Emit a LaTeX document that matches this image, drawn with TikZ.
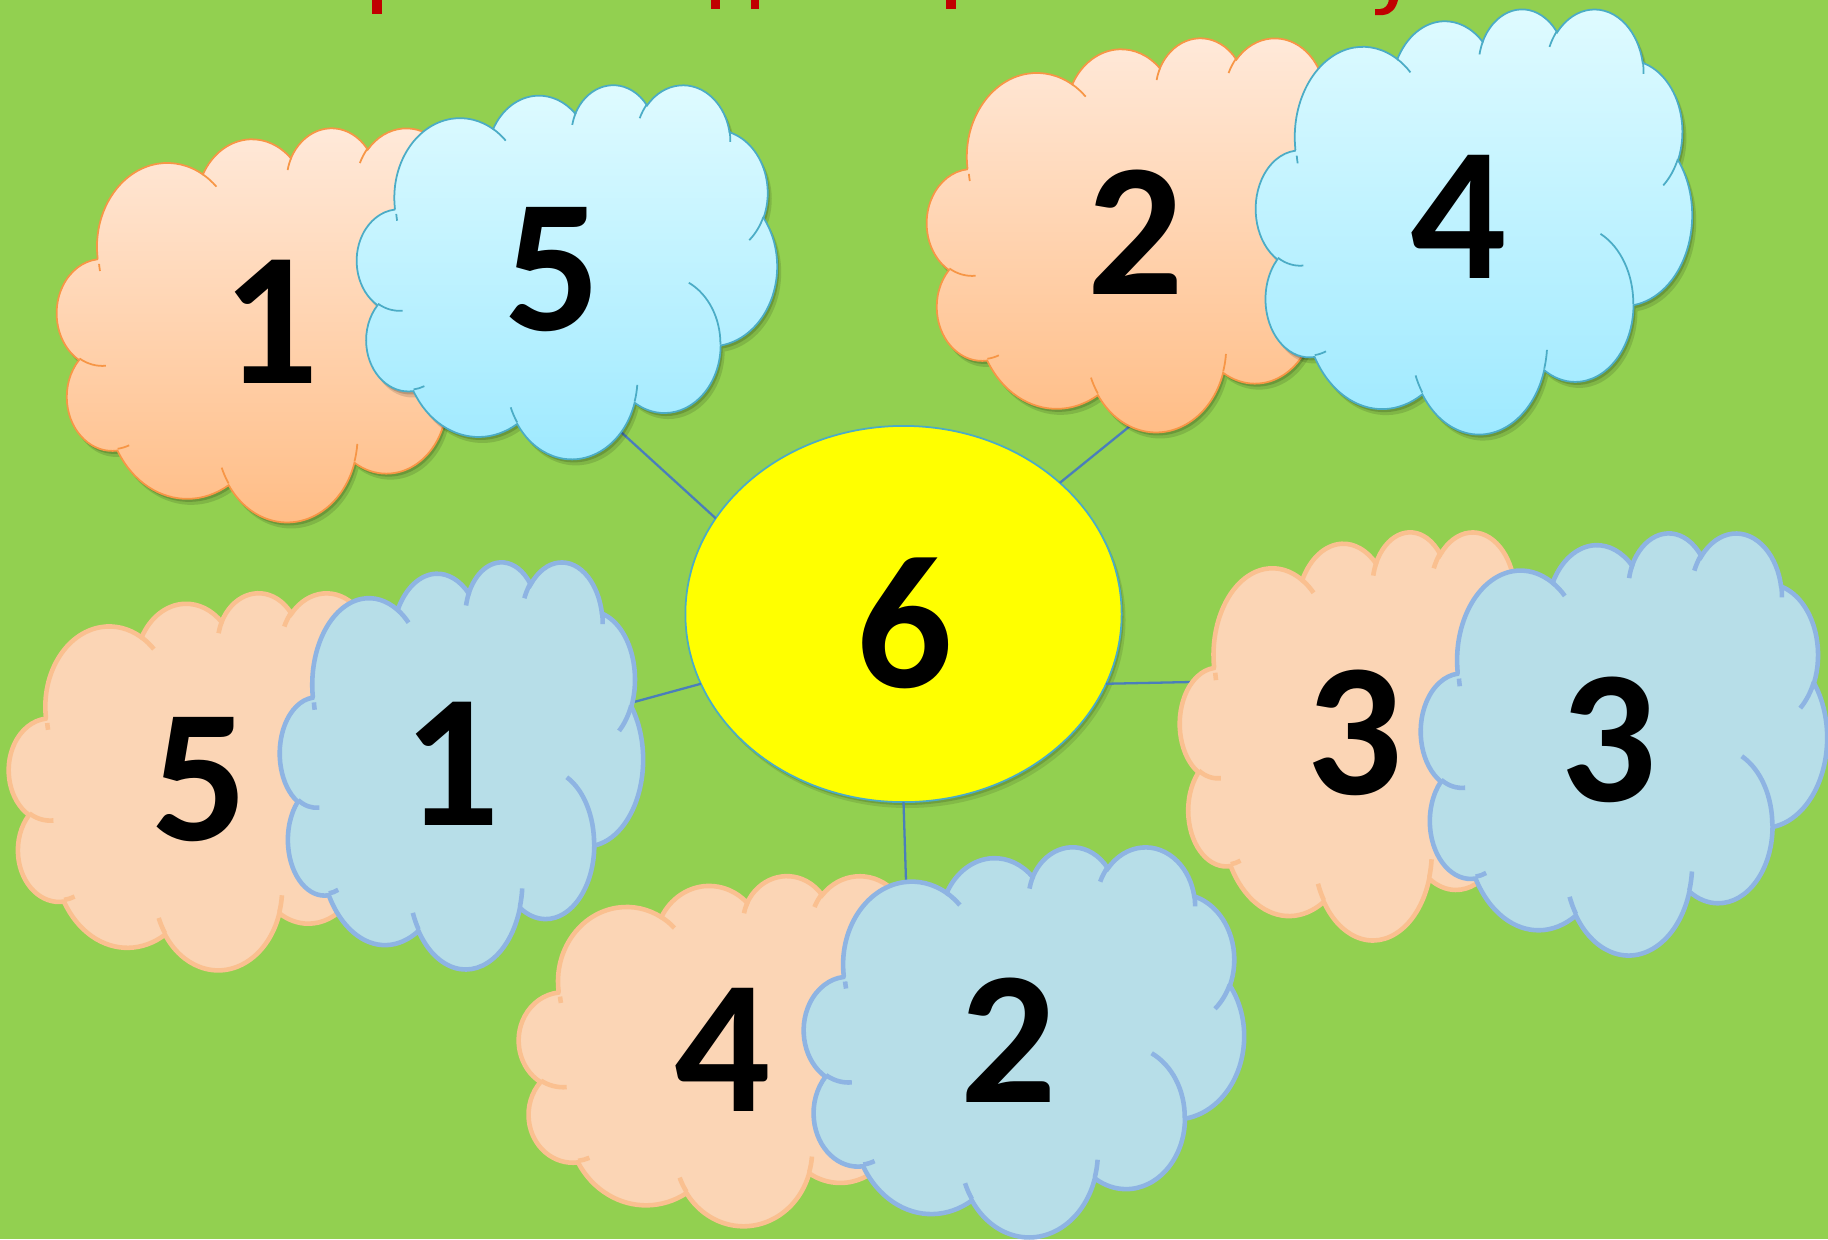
\documentclass[tikz,border=0pt]{standalone}
\usepackage{fontspec}
\newfontfamily\numfont{Carlito}
\usetikzlibrary{shapes.geometric}
\definecolor{bggreen}{HTML}{92D050}
\definecolor{peachT}{HTML}{FFEADB}
\definecolor{peachB}{HTML}{FFBC84}
\definecolor{blueT}{HTML}{E0FBFF}
\definecolor{blueB}{HTML}{9DE9FF}
\definecolor{peachline}{HTML}{F79646}
\definecolor{blueline}{HTML}{4BACC6}
\definecolor{peachF}{HTML}{FBD5B5}
\definecolor{peachL}{HTML}{FAC090}
\definecolor{blueF}{HTML}{B7DEE8}
\definecolor{blueL}{HTML}{8EB4E3}
\definecolor{linkblue}{HTML}{4A7EBB}
\definecolor{titlered}{HTML}{C00000}
\definecolor{sunyellow}{HTML}{FFFF00}
% PowerPoint cloud outline in a 43.2 x 43.2 box (y down)
\newcommand\cloudoutline{(3.900,14.370)
 arc[x radius=6.753,y radius=9.190,start angle=172.26,delta angle=128.10]
 arc[x radius=5.333,y radius=7.267,start angle=-152.02,delta angle=106.56]
 arc[x radius=4.365,y radius=5.945,start angle=-153.49,delta angle=116.17]
 arc[x radius=4.857,y radius=6.595,start angle=-139.72,delta angle=129.51]
 arc[x radius=5.333,y radius=7.273,start angle=-74.77,delta angle=97.98]
 arc[x radius=6.775,y radius=9.220,start angle=-37.53,delta angle=119.39]
 arc[x radius=5.785,y radius=7.867,start angle=0.46,delta angle=121.52]
 arc[x radius=6.752,y radius=9.215,start angle=16.85,delta angle=129.38]
 arc[x radius=7.720,y radius=10.543,start angle=58.98,delta angle=91.19]
 arc[x radius=4.360,y radius=5.918,start angle=83.31,delta angle=139.78]
 arc[x radius=4.345,y radius=5.945,start angle=120.35,delta angle=143.76]
 -- cycle}
\newcommand\cloudinner{
 (4.693,26.177) arc[x radius=4.345,y radius=5.945,start angle=85.55,delta angle=34.80]
 (6.928,34.899) arc[x radius=4.360,y radius=5.918,start angle=68.23,delta angle=15.08]
 (16.478,39.090) arc[x radius=6.752,y radius=9.215,start angle=146.23,delta angle=12.25]
 (28.827,34.751) arc[x radius=6.752,y radius=9.215,start angle=4.74,delta angle=12.11]
 (34.129,22.954) arc[x radius=5.785,y radius=7.867,start angle=-64.04,delta angle=64.50]
 (41.798,15.354) arc[x radius=5.333,y radius=7.273,start angle=23.21,delta angle=26.44]
 (38.324,5.426) arc[x radius=4.857,y radius=6.595,start angle=-10.21,delta angle=11.03]
 (29.078,3.952) arc[x radius=4.857,y radius=6.595,start angle=-156.28,delta angle=16.56]
 (22.141,4.720) arc[x radius=4.365,y radius=5.945,start angle=-167.73,delta angle=14.24]
 (14.000,5.192) arc[x radius=6.753,y radius=9.190,start angle=-59.64,delta angle=13.90]
 (4.127,15.789) arc[x radius=6.753,y radius=9.190,start angle=168.61,delta angle=4.93]}
% #1 x0, #2 y0, #3 width, #4 height, #5 look
\newcommand\drawcloud[5]{%
 \pgfmathsetmacro\cloudsx{#3/43.2}%
 \pgfmathsetmacro\cloudsy{#4/43.2}%
 \begin{scope}[shift={(#1,#2)},xscale=\cloudsx,yscale=\cloudsy]
  \path[#5] \cloudoutline;
  \path[#5 inner] \cloudinner;
 \end{scope}}
\newcommand\cloudshadow[4]{%
 \pgfmathsetmacro\cloudsx{#3/43.2}%
 \pgfmathsetmacro\cloudsy{#4/43.2}%
 \begin{scope}[shift={(#1+2,#2+3)},xscale=\cloudsx,yscale=\cloudsy]
  \fill[black,opacity=.16] \cloudoutline;
 \end{scope}
 \begin{scope}[shift={(#1+4,#2+6)},xscale=\cloudsx,yscale=\cloudsy]
  \fill[black,opacity=.12] \cloudoutline;
 \end{scope}}
\begin{document}
\begin{tikzpicture}[x=0.01cm,y=-0.01cm,
 peachtop/.style={top color=peachT,bottom color=peachB,draw=peachline,line width=0.5pt},
 peachtop inner/.style={draw=peachline,line width=0.5pt},
 bluetop/.style={top color=blueT,bottom color=blueB,draw=blueline,line width=0.5pt},
 bluetop inner/.style={draw=blueline,line width=0.5pt},
 peachflat/.style={fill=peachF,draw=peachL,line width=1.3pt},
 peachflat inner/.style={draw=peachL,line width=1.3pt},
 blueflat/.style={fill=blueF,draw=blueL,line width=1.3pt},
 blueflat inner/.style={draw=blueL,line width=1.3pt},
 num/.style={font=\numfont\bfseries\fontsize{54}{60}\selectfont,inner sep=0pt,text=black},
 link/.style={draw=linkblue,line width=0.65pt},
 sun/.style={ellipse,minimum width=4.36cm,minimum height=3.76cm,fill=sunyellow,draw=blueline,line width=0.5pt,outer sep=0pt}]
\useasboundingbox (0,0) rectangle (1828,1239);
\fill[bggreen] (0,0) rectangle (1828,1239);
% cut-off red title (only descenders visible)
\fill[titlered] (372,0) rectangle (382,14);
\fill[titlered] (711,0) rectangle (720,9);
\fill[titlered] (751,0) rectangle (759,9);
\fill[titlered] (946,0) rectangle (956,9);
\fill[titlered] (1388,0) -- (1398,0) .. controls (1396,8) and (1392,14) .. (1383,15) -- (1375,15) -- (1375,9) -- (1380,9) .. controls (1385,9) and (1388,5) .. (1389,0) -- cycle;
% central ellipse
\fill[black,opacity=.14] (905.5,617) ellipse [x radius=218,y radius=188];
\fill[black,opacity=.10] (907.5,620) ellipse [x radius=218,y radius=188];
\node[sun] (six) at (903.5,614) {};
\node[num] (sixlbl) at (905,623) {6};
% connector ends on the clouds
\coordinate (cB) at (621,432);
\coordinate (cC) at (1130,426);
\coordinate (cH) at (634,702);
\coordinate (cE) at (1191,682);
\coordinate (cJ) at (906,881);
\draw[link] (six.153) -- (cB);
\draw[link] (six.40) -- (cC);
\draw[link] (six.199) -- (cH);
\draw[link] (six.341) -- (cE);
\draw[link] (six.270) -- (cJ);
% top-left pair
\cloudshadow{57}{127}{450}{394}
\drawcloud{57}{127}{450}{394}{peachtop}
\cloudshadow{357}{84}{420}{374}
\drawcloud{357}{84}{420}{374}{bluetop}
% top-right pair
\cloudshadow{927}{37}{448}{394}
\drawcloud{927}{37}{448}{394}{peachtop}
\cloudshadow{1256}{8}{436}{425}
\drawcloud{1256}{8}{436}{425}{bluetop}
% right pair
\drawcloud{1180}{531}{377}{408}{peachflat}
\drawcloud{1421}{532}{406}{422}{blueflat}
% left pair
\drawcloud{9}{592}{409}{377}{peachflat}
\drawcloud{280}{561}{363}{407}{blueflat}
% bottom pair
\drawcloud{519}{875}{439}{350}{peachflat}
\drawcloud{804}{846}{440}{390}{blueflat}
% numbers
\node[num] (nA) at (271,322) {1};
\node[num] (nB) at (553,270) {5};
\node[num] (nC) at (1136,232) {2};
\node[num] (nD) at (1459,217) {4};
\node[num] (nE) at (1355,733) {3};
\node[num] (nF) at (1609,740) {3};
\node[num] (nG) at (200,780) {5};
\node[num] (nH) at (452,764) {1};
\node[num] (nI) at (723,1050) {4};
\node[num] (nJ) at (1009,1040) {2};
\end{tikzpicture}
\end{document}
